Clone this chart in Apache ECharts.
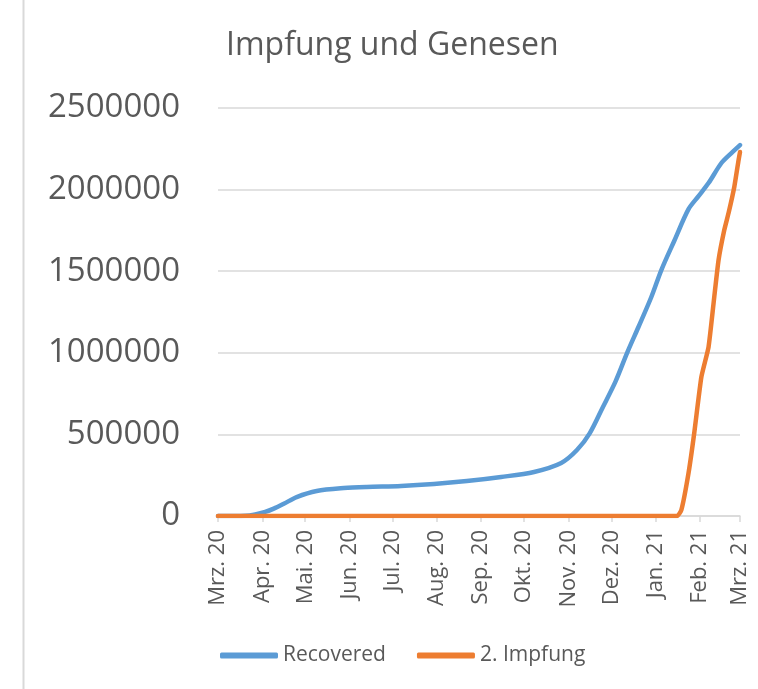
<!DOCTYPE html>
<html>
<head>
<meta charset="utf-8">
<style>
  html, body { margin: 0; padding: 0; background: #ffffff; }
  #chart { width: 758px; height: 689px; }
</style>
<script src="https://cdn.jsdelivr.net/npm/echarts@6/dist/echarts.min.js"></script>
</head>
<body>
<div id="chart"></div>
<script>
// ---- Data ----
const monthLabels = ['Jan.', 'Feb.', 'Mrz.', 'Apr.', 'Mai.', 'Jun.', 'Jul.', 'Aug.', 'Sep.', 'Okt.', 'Nov.', 'Dez.'];
const yTicks = [0, 500000, 1000000, 1500000, 2000000, 2500000];

const recoveredDates = [
  '2020-03-01', '2020-03-20', '2020-03-27', '2020-04-03', '2020-04-09', '2020-04-16', '2020-04-25',
  '2020-05-09', '2020-05-28', '2020-06-13', '2020-07-07', '2020-07-30', '2020-08-22', '2020-09-15',
  '2020-10-08', '2020-10-27', '2020-11-07', '2020-11-16', '2020-11-25', '2020-12-04', '2020-12-12',
  '2020-12-20', '2020-12-29', '2021-01-05', '2021-01-14', '2021-01-24', '2021-01-31',
  '2021-02-07', '2021-02-16', '2021-02-23', '2021-03-01'
];
const recoveredValues = [
  0, 2000, 10000, 25000, 45000, 75000, 116000,
  153000, 171000, 178000, 184000, 196000, 214000, 239000,
  270000, 325000, 404000, 508000, 665000, 825000, 998000,
  1158000, 1342000, 1507000, 1685000, 1880000, 1960000,
  2040000, 2163000, 2224000, 2273000
];

const impfungDates = [
  '2020-03-01', '2021-01-16', '2021-01-19', '2021-01-24', '2021-01-28', '2021-02-02', '2021-02-07',
  '2021-02-11', '2021-02-14', '2021-02-18', '2021-02-21', '2021-02-25', '2021-02-28', '2021-03-01'
];
const impfungValues = [
  0, 0, 37000, 263000, 508000, 852000, 1035000,
  1342000, 1568000, 1752000, 1856000, 2016000, 2181000, 2230000
];

// ---- Chart ----
const FONT = '"Open Sans", "Noto Sans", sans-serif';
const TEXT = '#595959';
const GRID = '#d9d9d9';
const DAY = 86400000;

const chart = echarts.init(document.getElementById('chart'), null, { renderer: 'canvas' });

chart.setOption({
  backgroundColor: '#ffffff',
  animation: false,
  title: {
    text: 'Impfung und Genesen',
    left: 221,
    top: 25,
    textStyle: { fontFamily: FONT, fontSize: 32, fontWeight: 'normal', color: TEXT }
  },
  legend: {
    left: 215,
    top: 640,
    itemWidth: 58,
    itemHeight: 6,
    itemGap: 31,
    icon: 'roundRect',
    textStyle: { fontFamily: FONT, fontSize: 21, color: TEXT },
    data: ['Recovered', '2. Impfung']
  },
  grid: { left: 218, right: 18, top: 108, bottom: 173, containLabel: false },
  xAxis: {
    type: 'time',
    min: '2020-03-01',
    max: '2021-03-01',
    splitNumber: 12,
    minInterval: 28 * DAY,
    maxInterval: 31 * DAY,
    axisLine: { show: true, lineStyle: { color: GRID, width: 1.5 } },
    axisTick: { show: true, length: 6, lineStyle: { color: GRID, width: 1.5 } },
    splitLine: { show: false },
    axisLabel: {
      rotate: 90,
      margin: 14,
      fontFamily: FONT,
      fontSize: 22,
      color: TEXT,
      showMinLabel: true,
      showMaxLabel: true,
      hideOverlap: false,
      formatter: function (val) {
        const d = new Date(val);
        return monthLabels[d.getMonth()] + ' ' + String(d.getFullYear()).slice(2);
      }
    }
  },
  yAxis: {
    type: 'value',
    min: yTicks[0],
    max: yTicks[yTicks.length - 1],
    interval: yTicks[1] - yTicks[0],
    axisLine: { show: false },
    axisTick: { show: false },
    splitLine: { show: true, lineStyle: { color: GRID, width: 1.5 } },
    axisLabel: {
      margin: 38,
      fontFamily: FONT,
      fontSize: 33,
      color: TEXT,
      formatter: function (v) { return String(v); }
    }
  },
  graphic: [
    {
      type: 'line',
      shape: { x1: 23.5, y1: 0, x2: 23.5, y2: 689 },
      style: { stroke: GRID, lineWidth: 2 },
      silent: true
    }
  ],
  series: [
    {
      name: 'Recovered',
      type: 'line',
      data: recoveredDates.map((d, i) => [d, recoveredValues[i]]),
      showSymbol: false,
      symbol: 'none',
      smooth: 0.3,
      lineStyle: { color: '#5b9bd5', width: 4.5, cap: 'round', join: 'round' },
      itemStyle: { color: '#5b9bd5' }
    },
    {
      name: '2. Impfung',
      type: 'line',
      data: impfungDates.map((d, i) => [d, impfungValues[i]]),
      showSymbol: false,
      symbol: 'none',
      smooth: 0.15,
      lineStyle: { color: '#ed7d31', width: 4.5, cap: 'round', join: 'round' },
      itemStyle: { color: '#ed7d31' }
    }
  ]
});
</script>
</body>
</html>
